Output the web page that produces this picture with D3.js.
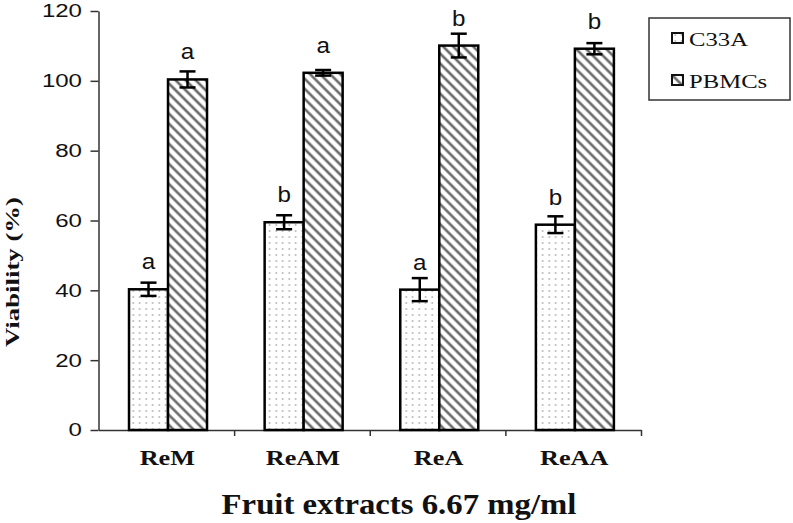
<!DOCTYPE html>
<html>
<head>
<meta charset="utf-8">
<script src="https://cdn.jsdelivr.net/npm/d3@7"></script>
<style>
  html, body { margin: 0; padding: 0; background: #fff; }
  svg { display: block; }
</style>
</head>
<body>
<svg id="chart" width="793" height="523"></svg>
<script>
// ---- data ----
const categories = ["ReM", "ReAM", "ReA", "ReAA"];
const seriesNames = ["C33A", "PBMCs"];
const c33aValues = [40.3, 59.5, 40.2, 58.8];
const c33aErrors = [1.9, 2.0, 3.3, 2.4];
const pbmcValues = [100.4, 102.3, 110.1, 109.2];
const pbmcErrors = [2.3, 0.8, 3.4, 1.6];
const c33aLetters = ["a", "b", "a", "b"];
const pbmcLetters = ["a", "a", "b", "b"];
const yTicks = [0, 20, 40, 60, 80, 100, 120];

(function () {
const svg = d3.select("#chart");
svg.append("rect").attr("width", 793).attr("height", 523).attr("fill", "#fff");

const SX = 1.3; // horizontal stretch of the original picture's text

// ---- patterns ----
const defs = svg.append("defs");
const dots = defs.append("pattern").attr("id", "dots")
  .attr("patternUnits", "userSpaceOnUse").attr("width", 6.5).attr("height", 6);
dots.append("rect").attr("width", 6.5).attr("height", 6).attr("fill", "#fff");
dots.append("circle").attr("cx", 3.2).attr("cy", 3).attr("r", 0.9).attr("fill", "#b0b0b0");

const hatch = defs.append("pattern").attr("id", "hatch")
  .attr("patternUnits", "userSpaceOnUse").attr("width", 7.1).attr("height", 7.1)
  .attr("patternTransform", "rotate(-45)");
hatch.append("rect").attr("width", 7.1).attr("height", 7.1).attr("fill", "#fff");
hatch.append("line").attr("x1", 3.55).attr("x2", 3.55).attr("y1", -1).attr("y2", 8.1)
  .attr("stroke", "#6a6a6a").attr("stroke-width", 2.6);

const fills = { "C33A": "url(#dots)", "PBMCs": "url(#hatch)" };

// ---- scales ----
const pLeft = 98.5, pRight = 641, pTop = 11, pBottom = 430;
const x = d3.scaleBand().domain(categories).range([pLeft, pRight]).padding(0);
const xBound = d3.scaleLinear().domain([0, categories.length]).range([pLeft, pRight]);
const xs = d3.scaleBand().domain(seriesNames)
  .range([x.bandwidth() * 0.225, x.bandwidth() * 0.225 + 78]).padding(0);
const y = d3.scaleLinear().domain([0, 120]).range([pBottom, pTop]);

// ---- axes ----
const yAxis = svg.append("g").attr("transform", `translate(${pLeft},0)`)
  .call(d3.axisLeft(y).tickValues(yTicks).tickSize(8).tickSizeOuter(0).tickFormat(d3.format("d")));
yAxis.select(".domain").attr("stroke", "#333").attr("stroke-width", 1.5);
yAxis.selectAll(".tick line").attr("stroke", "#333").attr("stroke-width", 1.5);
yAxis.selectAll(".tick text")
  .attr("x", -16.5 / SX)
  .attr("transform", `scale(${SX},1)`)
  .attr("font-family", "Arial, 'Liberation Sans', sans-serif")
  .attr("font-size", 18.5).attr("fill", "#111");

const xAxis = svg.append("g").attr("transform", `translate(0,${pBottom})`)
  .call(d3.axisBottom(xBound).tickValues(d3.range(1, categories.length + 1)).tickSize(6).tickSizeOuter(0).tickFormat(""));
xAxis.select(".domain").attr("stroke", "#333").attr("stroke-width", 1.5);
xAxis.selectAll(".tick line").attr("stroke", "#333").attr("stroke-width", 1.5);

// ---- bars ----
const rows = categories.map((c, i) => [
  { cat: c, s: "C33A", v: c33aValues[i], e: c33aErrors[i], l: c33aLetters[i] },
  { cat: c, s: "PBMCs", v: pbmcValues[i], e: pbmcErrors[i], l: pbmcLetters[i] }
]).flat();

const g = svg.append("g");
g.selectAll("rect.bar").data(rows).join("rect").attr("class", "bar")
  .attr("x", d => x(d.cat) + xs(d.s))
  .attr("y", d => y(d.v))
  .attr("width", xs.bandwidth())
  .attr("height", d => y(0) - y(d.v))
  .attr("fill", d => fills[d.s])
  .attr("stroke", "#000").attr("stroke-width", 2.5);

// error bars
const cap = 8;
const eb = g.selectAll("g.err").data(rows).join("g").attr("class", "err")
  .attr("transform", d => `translate(${x(d.cat) + xs(d.s) + xs.bandwidth() / 2},0)`);
eb.append("line").attr("y1", d => y(d.v + d.e)).attr("y2", d => y(d.v - d.e))
  .attr("stroke", "#000").attr("stroke-width", 2.5);
eb.append("line").attr("x1", -cap).attr("x2", cap)
  .attr("y1", d => y(d.v + d.e)).attr("y2", d => y(d.v + d.e))
  .attr("stroke", "#000").attr("stroke-width", 2.5);
eb.append("line").attr("x1", -cap).attr("x2", cap)
  .attr("y1", d => y(d.v - d.e)).attr("y2", d => y(d.v - d.e))
  .attr("stroke", "#000").attr("stroke-width", 2.5);

// significance letters
g.selectAll("text.sig").data(rows).join("text").attr("class", "sig")
  .attr("transform", d => `translate(${x(d.cat) + xs(d.s) + xs.bandwidth() / 2},${y(d.v) - 20}) scale(1.1,1)`)
  .attr("text-anchor", "middle")
  .attr("font-family", "Arial, 'Liberation Sans', sans-serif")
  .attr("font-size", 22).attr("fill", "#111")
  .text(d => d.l);

// category labels
svg.selectAll("text.cat").data(categories).join("text").attr("class", "cat")
  .attr("transform", d => `translate(${x(d) + x.bandwidth() / 2 + 1},465) scale(1.28,1)`)
  .attr("text-anchor", "middle")
  .attr("font-family", "'Liberation Serif', 'Times New Roman', serif")
  .attr("font-weight", "bold").attr("font-size", 20.5).attr("fill", "#111")
  .text(d => d);

// x title
svg.append("text")
  .attr("transform", "translate(399,514) scale(1.13,1)")
  .attr("text-anchor", "middle")
  .attr("font-family", "'Liberation Serif', 'Times New Roman', serif")
  .attr("font-weight", "bold").attr("font-size", 29).attr("fill", "#111")
  .text("Fruit extracts 6.67 mg/ml");

// y title
svg.append("text")
  .attr("transform", "translate(19,272) rotate(-90)")
  .attr("text-anchor", "middle")
  .attr("font-family", "'Liberation Serif', 'Times New Roman', serif")
  .attr("font-weight", "bold").attr("font-size", 19).attr("fill", "#111")
  .attr("textLength", 150).attr("lengthAdjust", "spacingAndGlyphs")
  .text("Viability (%)");

// ---- legend ----
const lg = svg.append("g");
lg.append("rect").attr("x", 649).attr("y", 18).attr("width", 141).attr("height", 82)
  .attr("fill", "#fff").attr("stroke", "#333").attr("stroke-width", 1.5);
const legendY = d3.scalePoint().domain(seriesNames).range([38, 80]);
const li = lg.selectAll("g.li").data(seriesNames).join("g").attr("class", "li")
  .attr("transform", d => `translate(672,${legendY(d)})`);
li.append("rect").attr("x", 0).attr("y", -5).attr("width", 11).attr("height", 10)
  .attr("fill", d => fills[d]).attr("stroke", "#111").attr("stroke-width", 2);
li.append("text")
  .attr("transform", `translate(17,8) scale(${SX},1)`)
  .attr("font-family", "'Liberation Serif', 'Times New Roman', serif")
  .attr("font-size", 19).attr("fill", "#111")
  .text(d => d);
})();
</script>
</body>
</html>
